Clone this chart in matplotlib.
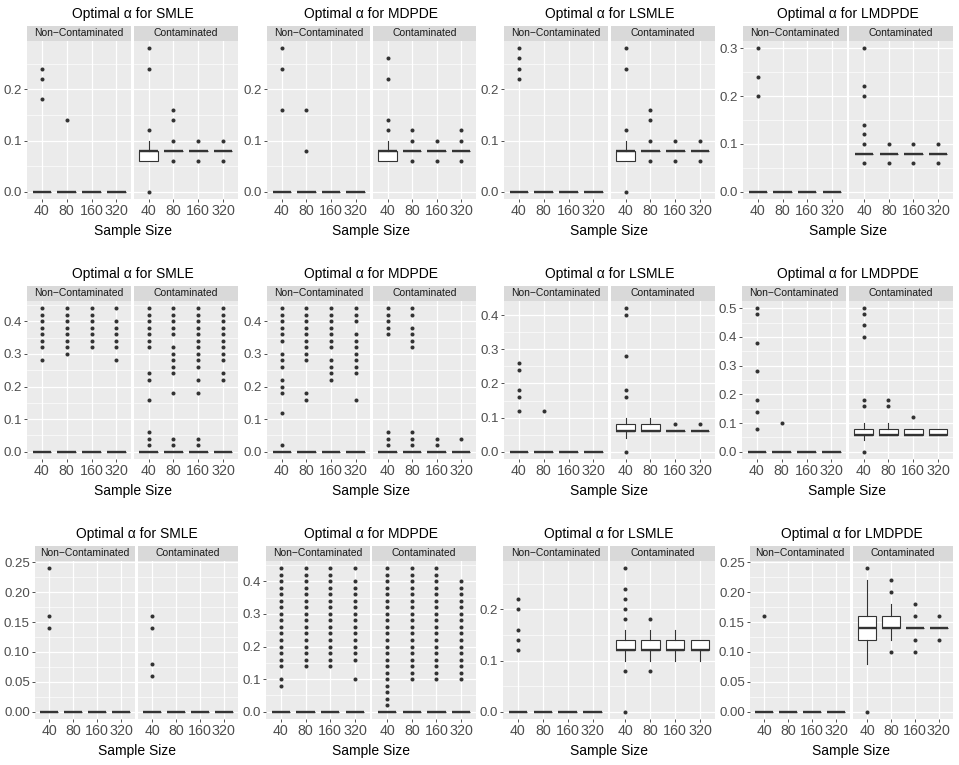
import matplotlib
matplotlib.use("Agg")
import matplotlib.pyplot as plt
from matplotlib.ticker import MultipleLocator, FormatStrFormatter, NullLocator

plt.rcParams['font.family'] = ['Liberation Sans', 'DejaVu Sans']

W, H = 959, 765
sizes = ["40", "80", "160", "320"]
facets = ["Non\u2212Contaminated", "Contaminated"]
estimators = ["SMLE", "MDPDE", "LSMLE", "LMDPDE"]

# box stats per sample size: (whisker low, q1, median, q3, whisker high)
zero_box = [(0, 0, 0, 0, 0)] * 4

# ---- row 1 ----
smle1_nc_out = [[0.24, 0.22, 0.18], [0.14], [], []]
smle1_c_box = [(0.06, 0.06, 0.08, 0.08, 0.10), (0.08, 0.08, 0.08, 0.08, 0.08),
               (0.08, 0.08, 0.08, 0.08, 0.08), (0.08, 0.08, 0.08, 0.08, 0.08)]
smle1_c_out = [[0.28, 0.24, 0.12, 0.0], [0.16, 0.14, 0.10, 0.06], [0.10, 0.06], [0.10, 0.06]]

mdpde1_nc_out = [[0.28, 0.24, 0.16], [0.16, 0.08], [], []]
mdpde1_c_box = [(0.06, 0.06, 0.08, 0.08, 0.10), (0.08, 0.08, 0.08, 0.08, 0.08),
                (0.08, 0.08, 0.08, 0.08, 0.08), (0.08, 0.08, 0.08, 0.08, 0.08)]
mdpde1_c_out = [[0.26, 0.22, 0.14, 0.12], [0.12, 0.10, 0.06], [0.10, 0.06], [0.12, 0.10, 0.06]]

lsmle1_nc_out = [[0.28, 0.26, 0.24, 0.22], [], [], []]
lsmle1_c_box = [(0.06, 0.06, 0.08, 0.08, 0.10), (0.08, 0.08, 0.08, 0.08, 0.08),
                (0.08, 0.08, 0.08, 0.08, 0.08), (0.08, 0.08, 0.08, 0.08, 0.08)]
lsmle1_c_out = [[0.28, 0.24, 0.12, 0.0], [0.16, 0.14, 0.10, 0.06], [0.10, 0.06], [0.10, 0.06]]

lmdpde1_nc_out = [[0.30, 0.24, 0.20], [], [], []]
lmdpde1_c_box = [(0.08, 0.08, 0.08, 0.08, 0.08)] * 4
lmdpde1_c_out = [[0.30, 0.22, 0.20, 0.14, 0.12, 0.10, 0.06], [0.10, 0.06], [0.10, 0.06], [0.10, 0.06]]

# ---- row 2 ----
smle2_nc_out = [[0.44, 0.42, 0.40, 0.38, 0.36, 0.34, 0.32, 0.28],
                [0.44, 0.42, 0.40, 0.38, 0.36, 0.34, 0.32, 0.30],
                [0.44, 0.42, 0.40, 0.38, 0.36, 0.34, 0.32],
                [0.44, 0.40, 0.38, 0.36, 0.34, 0.32, 0.28]]
smle2_c_out = [[0.44, 0.42, 0.40, 0.38, 0.36, 0.34, 0.32, 0.24, 0.22, 0.16, 0.06, 0.04, 0.02],
               [0.44, 0.42, 0.40, 0.38, 0.36, 0.32, 0.30, 0.28, 0.26, 0.24, 0.18, 0.04, 0.02],
               [0.44, 0.42, 0.40, 0.38, 0.36, 0.34, 0.32, 0.30, 0.28, 0.26, 0.22, 0.18, 0.04, 0.02],
               [0.44, 0.42, 0.40, 0.38, 0.36, 0.34, 0.32, 0.30, 0.28, 0.24, 0.22]]

mdpde2_nc_out = [[0.44, 0.42, 0.40, 0.38, 0.36, 0.34, 0.30, 0.28, 0.26, 0.22, 0.20, 0.18, 0.12, 0.02],
                 [0.44, 0.42, 0.40, 0.38, 0.36, 0.34, 0.32, 0.30, 0.28, 0.18, 0.16],
                 [0.44, 0.42, 0.40, 0.38, 0.36, 0.34, 0.32, 0.28, 0.26, 0.24, 0.22],
                 [0.44, 0.42, 0.40, 0.36, 0.34, 0.32, 0.30, 0.28, 0.26, 0.24, 0.16]]
mdpde2_c_out = [[0.44, 0.42, 0.40, 0.38, 0.36, 0.06, 0.04, 0.02],
                [0.44, 0.42, 0.38, 0.36, 0.34, 0.32, 0.06, 0.04, 0.02],
                [0.04, 0.02],
                [0.04]]

lsmle2_nc_out = [[0.26, 0.24, 0.18, 0.16, 0.12], [0.12], [], []]
lsmle2_c_box = [(0.04, 0.06, 0.06, 0.08, 0.10), (0.06, 0.06, 0.06, 0.08, 0.10),
                (0.06, 0.06, 0.06, 0.06, 0.06), (0.06, 0.06, 0.06, 0.06, 0.06)]
lsmle2_c_out = [[0.42, 0.40, 0.28, 0.18, 0.16, 0.0], [], [0.08], [0.08]]

lmdpde2_nc_out = [[0.50, 0.48, 0.38, 0.28, 0.18, 0.14, 0.08], [0.10], [], []]
lmdpde2_c_box = [(0.04, 0.06, 0.06, 0.08, 0.10), (0.06, 0.06, 0.06, 0.08, 0.10),
                 (0.06, 0.06, 0.06, 0.08, 0.08), (0.06, 0.06, 0.06, 0.08, 0.08)]
lmdpde2_c_out = [[0.50, 0.48, 0.44, 0.40, 0.18, 0.16, 0.0], [0.18, 0.16], [0.12], []]

# ---- row 3 ----
smle3_nc_out = [[0.24, 0.16, 0.14], [], [], []]
smle3_c_out = [[0.16, 0.14, 0.08, 0.06], [], [], []]

mdpde3_nc_out = [[0.44, 0.42, 0.40, 0.38, 0.36, 0.34, 0.32, 0.30, 0.28, 0.26, 0.24, 0.22, 0.20, 0.18, 0.16, 0.14, 0.10, 0.08],
                 [0.44, 0.42, 0.40, 0.38, 0.36, 0.34, 0.32, 0.30, 0.28, 0.26, 0.24, 0.22, 0.20, 0.18, 0.16, 0.14],
                 [0.44, 0.42, 0.40, 0.38, 0.36, 0.34, 0.32, 0.30, 0.28, 0.26, 0.24, 0.22, 0.20, 0.18, 0.16, 0.14],
                 [0.44, 0.40, 0.38, 0.36, 0.34, 0.32, 0.30, 0.28, 0.26, 0.24, 0.22, 0.20, 0.18, 0.16, 0.10]]
mdpde3_c_out = [[0.44, 0.42, 0.40, 0.38, 0.36, 0.34, 0.32, 0.30, 0.28, 0.26, 0.24, 0.22, 0.20, 0.18, 0.16, 0.14,
                 0.12, 0.10, 0.08, 0.06, 0.04, 0.02],
                [0.44, 0.42, 0.40, 0.38, 0.36, 0.34, 0.32, 0.30, 0.28, 0.26, 0.24, 0.22, 0.20, 0.18, 0.16, 0.14, 0.12, 0.10],
                [0.44, 0.42, 0.40, 0.38, 0.36, 0.34, 0.32, 0.30, 0.28, 0.26, 0.24, 0.22, 0.20, 0.18, 0.16, 0.14, 0.12, 0.10],
                [0.40, 0.38, 0.36, 0.34, 0.32, 0.30, 0.28, 0.26, 0.24, 0.22, 0.20, 0.18, 0.16, 0.14, 0.12, 0.10]]

lsmle3_nc_out = [[0.22, 0.20, 0.16, 0.14, 0.12], [], [], []]
lsmle3_c_box = [(0.10, 0.12, 0.12, 0.14, 0.16), (0.10, 0.12, 0.12, 0.14, 0.16),
                (0.10, 0.12, 0.12, 0.14, 0.16), (0.10, 0.12, 0.12, 0.14, 0.14)]
lsmle3_c_out = [[0.28, 0.24, 0.22, 0.20, 0.18, 0.08, 0.0], [0.18, 0.08], [], []]

lmdpde3_nc_out = [[0.16], [], [], []]
lmdpde3_c_box = [(0.08, 0.12, 0.14, 0.16, 0.22), (0.12, 0.14, 0.14, 0.16, 0.18),
                 (0.14, 0.14, 0.14, 0.14, 0.14), (0.14, 0.14, 0.14, 0.14, 0.14)]
lmdpde3_c_out = [[0.24, 0.0], [0.22, 0.20, 0.10], [0.18, 0.16, 0.12, 0.10], [0.16, 0.12]]

panels = [
    [(zero_box, smle1_nc_out, smle1_c_box, smle1_c_out),
     (zero_box, mdpde1_nc_out, mdpde1_c_box, mdpde1_c_out),
     (zero_box, lsmle1_nc_out, lsmle1_c_box, lsmle1_c_out),
     (zero_box, lmdpde1_nc_out, lmdpde1_c_box, lmdpde1_c_out)],
    [(zero_box, smle2_nc_out, zero_box, smle2_c_out),
     (zero_box, mdpde2_nc_out, zero_box, mdpde2_c_out),
     (zero_box, lsmle2_nc_out, lsmle2_c_box, lsmle2_c_out),
     (zero_box, lmdpde2_nc_out, lmdpde2_c_box, lmdpde2_c_out)],
    [(zero_box, smle3_nc_out, zero_box, smle3_c_out),
     (zero_box, mdpde3_nc_out, zero_box, mdpde3_c_out),
     (zero_box, lsmle3_nc_out, lsmle3_c_box, lsmle3_c_out),
     (zero_box, lmdpde3_nc_out, lmdpde3_c_box, lmdpde3_c_out)],
]
tick_steps = [[0.1, 0.1, 0.1, 0.1], [0.1, 0.1, 0.1, 0.1], [0.05, 0.1, 0.1, 0.05]]

# layout in pixels
strip_top = [26, 286, 546]
strip_h = 15
panel_bottom = [199, 459, 719]
col_left = [[27, 267, 504, 743], [27, 267, 504, 742], [35, 266, 503, 750]]
col_right = [238, 476, 715, 953]
gap = 2.5

fig = plt.figure(figsize=(W / 100, H / 100), dpi=100)


def px_axes(x0, y0, x1, y1):
    return fig.add_axes([x0 / W, 1 - y1 / H, (x1 - x0) / W, (y1 - y0) / H])


for r in range(3):
    for c in range(4):
        nc_box, nc_out, c_box, c_out = panels[r][c]
        vals = []
        for box, out in [(nc_box, nc_out), (c_box, c_out)]:
            for b, o in zip(box, out):
                vals += [b[0], b[4]] + list(o)
        lo, hi = min(vals), max(vals)
        pad = 0.05 * (hi - lo)
        step = tick_steps[r][c]
        fmt = '%.1f' if step >= 0.1 else '%.2f'

        left, right = col_left[r][c], col_right[c]
        fw = (right - left - gap) / 2
        for k, (box, out) in enumerate([(nc_box, nc_out), (c_box, c_out)]):
            x0 = left + k * (fw + gap)
            x1 = x0 + fw
            sax = px_axes(x0, strip_top[r], x1, strip_top[r] + strip_h)
            sax.set_facecolor('#D9D9D9')
            sax.set_xticks([])
            sax.set_yticks([])
            for s in sax.spines.values():
                s.set_visible(False)
            sax.text(0.5, 0.5, facets[k], ha='center', va='center', fontsize=7.5,
                     color='#1A1A1A', transform=sax.transAxes)

            ax = px_axes(x0, strip_top[r] + strip_h, x1, panel_bottom[r])
            ax.set_facecolor('#EBEBEB')
            for s in ax.spines.values():
                s.set_visible(False)
            stats = [dict(whislo=b[0], q1=b[1], med=b[2], q3=b[3], whishi=b[4], fliers=o)
                     for b, o in zip(box, out)]
            ax.bxp(stats, positions=[1, 2, 3, 4], widths=0.75, patch_artist=True, showcaps=False,
                   boxprops=dict(facecolor='white', edgecolor='#333333', linewidth=0.8),
                   medianprops=dict(color='#333333', linewidth=1.7),
                   whiskerprops=dict(color='#333333', linewidth=0.8),
                   flierprops=dict(marker='o', markersize=2.9, markerfacecolor='#333333',
                                   markeredgecolor='none'))
            ax.set_xlim(0.4, 4.6)
            ax.set_ylim(lo - pad, hi + pad)
            ax.set_xticks([1, 2, 3, 4])
            ax.set_xticklabels(sizes)
            ax.yaxis.set_major_locator(MultipleLocator(step))
            ax.yaxis.set_minor_locator(MultipleLocator(step / 2))
            ax.yaxis.set_major_formatter(FormatStrFormatter(fmt))
            ax.xaxis.set_minor_locator(NullLocator())
            ax.set_axisbelow(True)
            ax.grid(which='major', color='white', linewidth=0.9)
            ax.grid(which='minor', axis='y', color='white', linewidth=0.45)
            ax.tick_params(which='major', length=2.2, width=0.6, color='#333333',
                           labelsize=9.5, labelcolor='#4D4D4D', pad=1.5)
            ax.tick_params(axis='x', labelsize=10.3)
            ax.tick_params(which='minor', length=0)
            if k == 1:
                ax.tick_params(axis='y', left=False, labelleft=False)

        cx = (left + right) / 2
        fig.text(cx / W, 1 - (strip_top[r] - 8.3) / H, "Optimal \u03b1 for " + estimators[c],
                 ha='center', va='baseline', fontsize=10)
        fig.text(cx / W, 1 - (panel_bottom[r] + 36) / H, "Sample Size",
                 ha='center', va='baseline', fontsize=10)

fig.savefig("out.png", dpi=100)
